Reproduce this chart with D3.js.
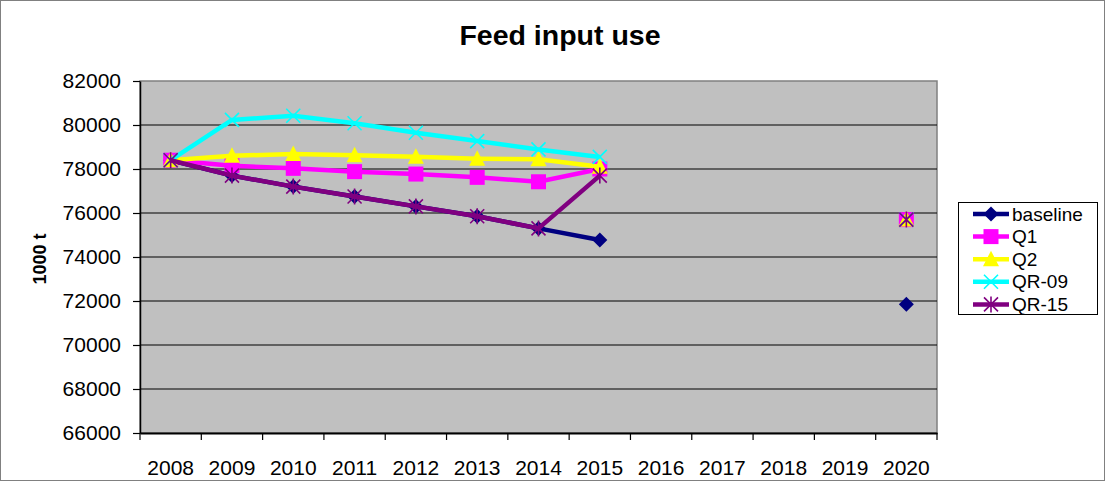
<!DOCTYPE html>
<html>
<head>
<meta charset="utf-8">
<script src="https://cdn.jsdelivr.net/npm/d3@7"></script>
<style>
  html, body { margin: 0; padding: 0; background: #fff; }
  svg { display: block; font-family: "Liberation Sans", Arial, sans-serif; }
</style>
</head>
<body>
<svg id="chart" width="1109" height="482"></svg>
<script>
// Categories and values (1000 t)
const years = ["2008","2009","2010","2011","2012","2013","2014","2015","2016","2017","2018","2019","2020"];
const baseline = [78400, 77700, 77200, 76750, 76300, 75850, 75300, 74770, null, null, null, null, 71850];
const q1       = [78400, 78150, 78030, 77880, 77770, 77620, 77420, 78000, null, null, null, null, 75700];
const q2       = [78400, 78600, 78680, 78620, 78560, 78470, 78440, 78100, null, null, null, null, 75700];
const qr09     = [78400, 80230, 80420, 80080, 79650, 79270, 78890, 78550, null, null, null, null, 75700];
const qr15     = [78400, 77700, 77200, 76750, 76300, 75850, 75300, 77700, null, null, null, null, 75700];
const yTicks   = [66000, 68000, 70000, 72000, 74000, 76000, 78000, 80000, 82000];
const seriesNames = ["baseline", "Q1", "Q2", "QR-09", "QR-15"];

const series = [
  { name: seriesNames[0], values: baseline, color: "#000080", marker: "diamond" },
  { name: seriesNames[1], values: q1,       color: "#FF00FF", marker: "square" },
  { name: seriesNames[2], values: q2,       color: "#FFFF00", marker: "triangle" },
  { name: seriesNames[3], values: qr09,     color: "#00FFFF", marker: "x" },
  { name: seriesNames[4], values: qr15,     color: "#800080", marker: "star" }
];

const svg = d3.select("#chart");
const plot = { left: 140, right: 937, top: 81, bottom: 433 };

const x = d3.scaleBand().domain(years).range([plot.left, plot.right]).paddingInner(0).paddingOuter(0);
const y = d3.scaleLinear().domain([66000, 82000]).range([plot.bottom, plot.top]);
const cx = d => x(d) + x.bandwidth() / 2;

// outer frame
svg.append("rect")
  .attr("x", 0.5).attr("y", 0.5).attr("width", 1104).attr("height", 480)
  .attr("fill", "#fff").attr("stroke", "#808080").attr("stroke-width", 1);

// title
svg.append("text")
  .attr("x", 560).attr("y", 45)
  .attr("text-anchor", "middle")
  .attr("font-size", 28.5).attr("font-weight", "bold")
  .text("Feed input use");

// plot background
svg.append("rect")
  .attr("x", plot.left).attr("y", plot.top)
  .attr("width", plot.right - plot.left).attr("height", plot.bottom - plot.top)
  .attr("fill", "#C0C0C0").attr("stroke", "#808080").attr("stroke-width", 1.5);

// gridlines
svg.append("g")
  .selectAll("line")
  .data(yTicks.slice(1, -1))
  .join("line")
  .attr("x1", plot.left).attr("x2", plot.right)
  .attr("y1", d => y(d)).attr("y2", d => y(d))
  .attr("stroke", "#000").attr("stroke-width", 1.2);

// y axis
const yAxis = svg.append("g")
  .attr("transform", `translate(${plot.left},0)`)
  .call(d3.axisLeft(y).tickValues(yTicks).tickFormat(d3.format("d")).tickSizeInner(7).tickSizeOuter(0).tickPadding(12));
yAxis.select(".domain").attr("stroke", "#000").attr("stroke-width", 1.5);
yAxis.selectAll(".tick line").attr("stroke", "#000").attr("stroke-width", 1.2);
yAxis.selectAll(".tick text")
  .attr("font-size", 21).attr("fill", "#000")
  .attr("font-family", "Liberation Sans, Arial, sans-serif");

// x axis labels
const xAxis = svg.append("g")
  .attr("transform", `translate(0,${plot.bottom})`)
  .call(d3.axisBottom(x).tickSizeInner(0).tickSizeOuter(0).tickPadding(27));
xAxis.select(".domain").attr("stroke", "#000").attr("stroke-width", 2);
xAxis.selectAll(".tick text")
  .attr("font-size", 21).attr("fill", "#000")
  .attr("font-family", "Liberation Sans, Arial, sans-serif");

// x tick marks on category boundaries
const bounds = years.map(d => x(d)).concat([plot.right]);
svg.append("g")
  .selectAll("line")
  .data(bounds)
  .join("line")
  .attr("x1", d => d).attr("x2", d => d)
  .attr("y1", plot.bottom).attr("y2", plot.bottom + 7)
  .attr("stroke", "#000").attr("stroke-width", 1.2);

// marker shapes
function drawMarker(g, type, color, px, py) {
  if (type === "diamond") {
    g.append("path")
      .attr("d", `M${px},${py - 7.5}L${px + 7.5},${py}L${px},${py + 7.5}L${px - 7.5},${py}Z`)
      .attr("fill", color);
  } else if (type === "square") {
    g.append("rect")
      .attr("x", px - 7.5).attr("y", py - 7.5).attr("width", 15).attr("height", 15)
      .attr("fill", color);
  } else if (type === "triangle") {
    g.append("path")
      .attr("d", `M${px},${py - 8.5}L${px + 8},${py + 7}L${px - 8},${py + 7}Z`)
      .attr("fill", color);
  } else if (type === "x") {
    g.append("path")
      .attr("d", `M${px - 7},${py - 7}L${px + 7},${py + 7}M${px - 7},${py + 7}L${px + 7},${py - 7}`)
      .attr("stroke", color).attr("stroke-width", 1.6).attr("fill", "none");
  } else if (type === "star") {
    g.append("path")
      .attr("d", `M${px - 7},${py - 7}L${px + 7},${py + 7}M${px - 7},${py + 7}L${px + 7},${py - 7}M${px},${py - 8}L${px},${py + 8}`)
      .attr("stroke", color).attr("stroke-width", 1.6).attr("fill", "none");
  }
}

// series: line then markers, in order
const line = d3.line()
  .defined(d => d.v !== null)
  .x(d => cx(d.year))
  .y(d => y(d.v));

series.forEach(s => {
  const pts = years.map((yr, i) => ({ year: yr, v: s.values[i] }));
  const g = svg.append("g").attr("class", "series");
  g.append("path")
    .datum(pts)
    .attr("d", line)
    .attr("fill", "none")
    .attr("stroke", s.color)
    .attr("stroke-width", 4.5)
    .attr("stroke-linejoin", "miter");
  pts.filter(p => p.v !== null).forEach(p => drawMarker(g, s.marker, s.color, cx(p.year), y(p.v)));
});

// y axis title
svg.append("text")
  .attr("transform", "translate(46,259) rotate(-90)")
  .attr("text-anchor", "middle")
  .attr("font-size", 18).attr("font-weight", "bold")
  .text("1000 t");

// legend
const legend = svg.append("g");
legend.append("rect")
  .attr("x", 958.5).attr("y", 202.5).attr("width", 139).attr("height", 112)
  .attr("fill", "#fff").attr("stroke", "#000").attr("stroke-width", 1);
series.forEach((s, i) => {
  const ly = 214 + i * 22.6;
  const g = legend.append("g");
  g.append("line")
    .attr("x1", 973).attr("x2", 1009).attr("y1", ly).attr("y2", ly)
    .attr("stroke", s.color).attr("stroke-width", 4.5);
  drawMarker(g, s.marker, s.color, 991, ly);
  g.append("text")
    .attr("x", 1012).attr("y", ly + 6.5)
    .attr("font-size", 19)
    .text(s.name);
});
</script>
</body>
</html>
